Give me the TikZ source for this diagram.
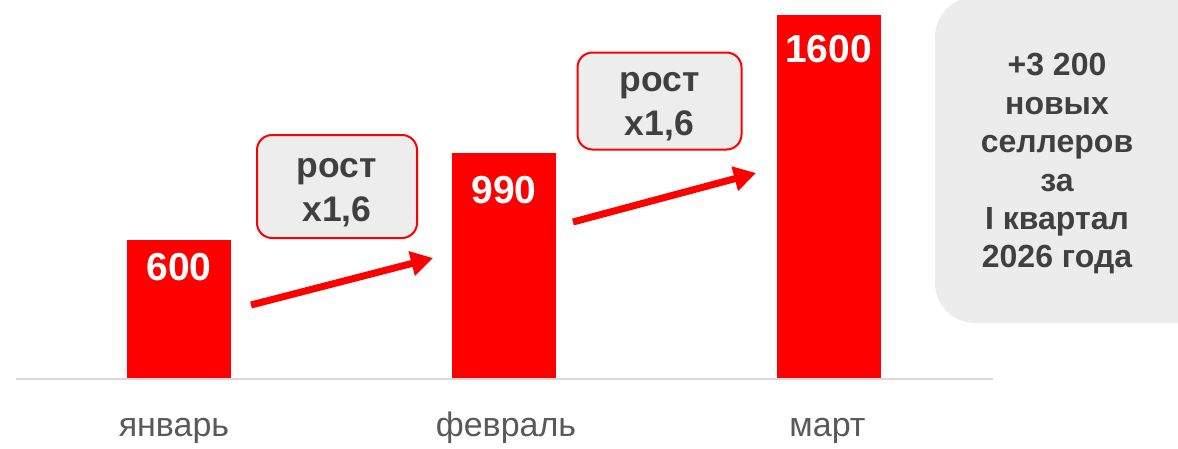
\documentclass[tikz,border=0pt]{standalone}
\usepackage{fontspec}
\setmainfont{Liberation Sans}
\usetikzlibrary{arrows.meta}
\definecolor{barred}{HTML}{FF0000}
\definecolor{boxgray}{HTML}{EDEDED}
\definecolor{sidegray}{HTML}{ECECEC}
\definecolor{darktext}{HTML}{404040}
\definecolor{monthtext}{HTML}{595959}
\definecolor{axisgray}{HTML}{D9D9D9}
\tikzset{
  bar/.style={fill=barred, draw=none, inner sep=0pt, minimum width=104pt, anchor=south},
  barval/.style={text=white, font=\fontsize{39}{44}\selectfont\bfseries, anchor=base, inner sep=0pt},
  growbox/.style={fill=boxgray, draw=barred, line width=2pt, rounded corners=15pt, inner sep=0pt},
  growtext/.style={align=center, text=darktext, font=\fontsize{35.5}{44}\selectfont\bfseries, inner sep=0pt},
  growarrow/.style={draw=barred, line width=7pt, -{Triangle[length=22pt,width=24pt]}},
  month/.style={text=monthtext, font=\fontsize{34}{38}\selectfont, anchor=base, inner sep=0pt},
  sidetext/.style={text=darktext, font=\fontsize{32}{38.4}\selectfont\bfseries, align=center, inner sep=0pt},
  axis/.style={draw=axisgray, line width=2pt}
}
\begin{document}
\begin{tikzpicture}[x=1pt,y=-1pt]
\useasboundingbox (0,0) rectangle (1178,448);
% side summary box
\begin{scope}
\clip (0,0) rectangle (1178,448);
\fill[sidegray, rounded corners=40pt] (935,-3) rectangle (1220,323);
\end{scope}
\node[sidetext] (summary) at (1057,164) {+3 200\\новых\\селлеров\\за\\I квартал\\2026 года};
% axis
\coordinate (axl) at (16,379);
\coordinate (axr) at (993,379);
\draw[axis] (axl) -- (axr);
% bars
\node[bar, minimum height=138pt] (b1) at (179,378) {};
\node[bar, minimum height=225pt] (b2) at (504,378) {};
\node[bar, minimum height=363pt] (b3) at (828.5,378) {};
% values
\node[barval] (v1) at (179,280) {600};
\node[barval] (v2) at (504,203) {990};
\node[barval] (v3) at (828.5,62) {1600};
% months
\node[month] (m1) at (174,436) {январь};
\node[month] (m2) at (506,436) {февраль};
\node[month] (m3) at (827.5,436) {март};
% growth boxes
\node[growbox, minimum width=160pt, minimum height=103pt] (g1) at (337,186.5) {};
\node[growtext] (g1t) at (337,192.5) {рост\\x1,6};
\node[growbox, minimum width=164pt, minimum height=97pt] (g2) at (659.5,101) {};
\node[growtext] (g2t) at (659.5,106.5) {рост\\x1,6};
% arrows
\coordinate (a1s) at (251,305);
\coordinate (a1e) at (433,258);
\coordinate (a2s) at (573,222);
\coordinate (a2e) at (756,173);
\draw[growarrow] (a1s) -- (a1e);
\draw[growarrow] (a2s) -- (a2e);
\end{tikzpicture}
\end{document}
